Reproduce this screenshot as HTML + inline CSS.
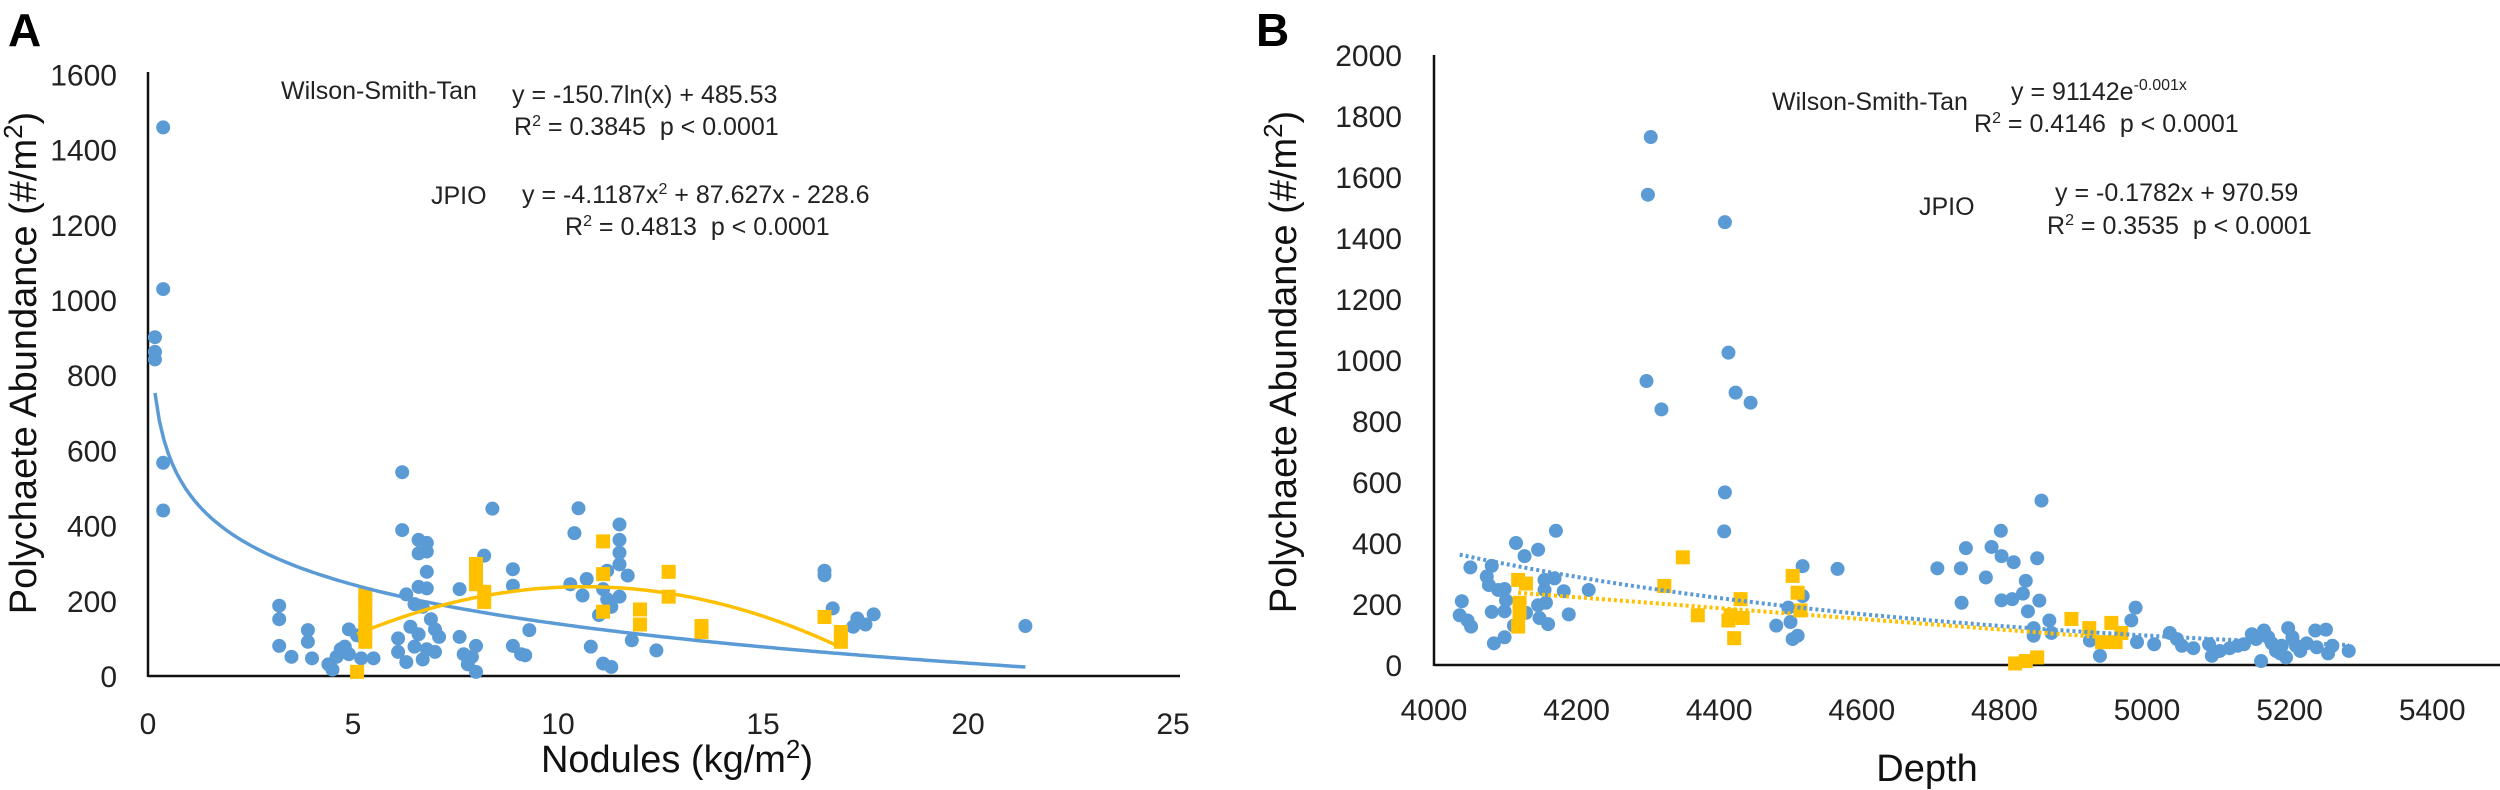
<!DOCTYPE html>
<html><head><meta charset="utf-8"><style>
html,body{margin:0;padding:0;background:#fff;}
svg{display:block;font-family:"Liberation Sans",sans-serif;}
</style></head><body>
<svg id="fig" width="2500" height="790" viewBox="0 0 2500 790" xmlns="http://www.w3.org/2000/svg">
<g id="panelA"></g>
<g id="panelB"></g>
</svg>
<script>
// ---------- Panel A data ----------
const aXTicks = [0,5,10,15,20,25];
const aYTicks = [0,200,400,600,800,1000,1200,1400,1600];
const aBlueX = [0.37,0.37,0.17,0.17,0.17,0.37,0.37,6.2,8.4,10.5,11.5,6.2,10.4,6.6,6.8,6.8,6.6,8.2,11.5,11.5,11.2,8.9,6.8,11.5,11.7,16.5,16.5,16.7,17.2,17.3,17.5,17.7,21.4,7.6,6.3,6.6,6.8,6.5,6.7,6.9,6.4,6.6,7.0,7.1,6.1,6.1,6.3,6.5,6.7,6.8,7.0,7.6,7.7,7.8,7.9,8.0,8.0,8.9,9.1,9.2,9.3,8.9,10.3,10.6,10.7,11.1,11.0,11.3,11.5,11.2,10.8,11.1,11.3,11.8,12.4,3.2,3.2,3.2,3.5,3.9,3.9,4.0,4.4,4.5,4.6,4.7,4.8,4.9,4.9,5.1,5.5,5.2];
const aBlueY = [1459,1029,901,862,842,567,440,542,445,446,403,388,380,362,354,331,326,320,362,328,280,284,277,297,267,268,280,180,131,153,137,164,133,231,217,237,233,191,184,151,131,111,124,104,100,64,37,78,44,71,64,104,58,31,51,80,11,80,58,55,122,240,244,214,258,231,162,184,211,204,78,33,24,95,68,187,151,80,51,122,91,47,31,17,51,71,78,58,124,108,47,47];
const aYelX = [5.1,5.3,5.3,5.3,5.3,5.3,5.3,8.0,8.0,8.2,8.2,8.0,11.1,11.1,11.1,12.0,12.0,12.7,12.7,13.5,13.5,16.5,16.9,16.9];
const aYelY = [11,91,117,144,171,197,217,298,244,224,197,264,358,271,171,177,137,277,211,133,117,157,91,117];
const aLogFit = [-150.7, 485.53];        // y = a ln(x) + b
const aLogRange = [0.17, 21.4];
const aQuadFit = [-4.1187, 87.627, -228.6]; // y = a x^2 + b x + c
const aQuadRange = [5.1, 16.9];

// ---------- Panel B data ----------
const bXTicks = [4000,4200,4400,4600,4800,5000,5200,5400];
const bYTicks = [0,200,400,600,800,1000,1200,1400,1600,1800,2000];
const bBlueX = [4304,4300,4408,4413,4298,4319,4423,4444,4408,4407,4852,4795,4782,4746,4796,4813,4846,4739,4706,4774,4830,4796,4811,4826,4849,4740,4833,4863,4841,4841,4866,4171,4115,4146,4127,4051,4081,4074,4077,4099,4090,4169,4155,4155,4182,4217,4039,4036,4047,4052,4081,4099,4101,4129,4146,4157,4148,4160,4189,4084,4099,4112,4480,4500,4517,4517,4503,4510,4566,4497,4984,4978,4986,5010,4920,4934,5032,5042,5049,5065,5087,5091,5102,5116,5127,5136,5147,5153,5160,5164,5170,5175,5181,5189,5195,5198,5204,5209,5224,5238,5236,5251,5254,5260,5283,5215,5187];
const bBlueY = [1731,1542,1452,1024,931,838,893,860,566,438,539,440,387,383,357,337,350,317,317,287,276,212,216,234,211,204,176,146,121,96,105,440,400,378,357,320,325,290,262,249,246,284,279,246,242,246,209,163,146,126,174,176,212,171,196,204,154,134,166,71,91,129,129,141,226,324,85,96,315,188,188,146,75,68,80,30,105,85,63,55,68,30,46,55,63,68,101,85,13,113,91,71,46,63,25,121,91,63,71,58,113,116,38,63,46,46,38];
const bYelX = [4349,4323,4370,4118,4129,4120,4120,4118,4430,4416,4433,4421,4413,4503,4510,4514,4815,4830,4846,4894,4919,4937,4950,4956,4964];
const bYelY = [353,259,163,279,267,204,171,126,216,163,154,88,146,292,237,179,5,13,25,151,121,75,138,75,105];
const bExpFit = [91142, 0.00137];   // y = A e^(-k x)
const bExpRange = [4036, 5283];
const bLinFit = [-0.1782, 970.59];  // y = m x + c
const bLinRange = [4118, 4964];

const NS = "http://www.w3.org/2000/svg";
const BLUE = "#5b9bd5", YEL = "#ffc000";
function mk(parent, tag, attrs, text) {
  const e = document.createElementNS(NS, tag);
  for (const k in attrs) e.setAttribute(k, attrs[k]);
  if (text !== undefined) e.textContent = text;
  parent.appendChild(e);
  return e;
}

// ---------- Panel A ----------
const A = document.getElementById('panelA');
const axA = v => 148 + v * 41.0;
const ayA = v => 676 - v * 0.376;
const tA = mk(A, 'text', {x: 8, y: 46, 'font-size': 46, 'font-weight': 'bold'}, 'A');


aYTicks.forEach(v => {
  const t = mk(A, 'text', {x: 117, y: ayA(v) + 11, 'font-size': 30, 'text-anchor': 'end', fill: '#222'}, String(v));
  
  
});
aXTicks.forEach(v => {
  const t = mk(A, 'text', {x: axA(v), y: 734, 'font-size': 30, 'text-anchor': 'middle', fill: '#222'}, String(v));
  
  
});
let l = mk(A, 'line', {x1: 148, y1: 676, x2: 1180, y2: 676, stroke: '#111', 'stroke-width': 2.5});


l = mk(A, 'line', {x1: 148, y1: 72, x2: 148, y2: 677, stroke: '#111', 'stroke-width': 2.5});


let t = mk(A, 'text', {x: 0, y: 0, 'font-size': 38, 'text-anchor': 'middle', fill: '#111', transform: 'translate(36,363) rotate(-90)'});
t.innerHTML = 'Polychaete Abundance (#/m<tspan font-size="26" dy="-14">2</tspan><tspan dy="14">)</tspan>';


t = mk(A, 'text', {x: 677, y: 772, 'font-size': 38, 'text-anchor': 'middle', fill: '#111'});
t.innerHTML = 'Nodules (kg/m<tspan font-size="26" dy="-14">2</tspan><tspan dy="14">)</tspan>';


// points
aBlueX.forEach((x, i) => {
  const c = mk(A, 'circle', {cx: axA(x), cy: ayA(aBlueY[i]), r: 7, fill: BLUE});
  
  
});
aYelX.forEach((x, i) => {
  const r = mk(A, 'rect', {x: axA(x) - 7, y: ayA(aYelY[i]) - 7, width: 14, height: 14, fill: YEL});
  
  
});
// fits
let pts = [];
for (let i = 0; i <= 200; i++) {
  const x = aLogRange[0] + (aLogRange[1] - aLogRange[0]) * i / 200;
  pts.push(axA(x).toFixed(1) + ',' + ayA(aLogFit[0] * Math.log(x) + aLogFit[1]).toFixed(1));
}
let p = mk(A, 'polyline', {points: pts.join(' '), fill: 'none', stroke: BLUE, 'stroke-width': 3.5});


pts = [];
for (let i = 0; i <= 100; i++) {
  const x = aQuadRange[0] + (aQuadRange[1] - aQuadRange[0]) * i / 100;
  pts.push(axA(x).toFixed(1) + ',' + ayA(aQuadFit[0] * x * x + aQuadFit[1] * x + aQuadFit[2]).toFixed(1));
}
p = mk(A, 'polyline', {points: pts.join(' '), fill: 'none', stroke: YEL, 'stroke-width': 3.5});


// annotations
const annA = [
  [281, 99, 'Wilson-Smith-Tan', 'wst-label'],
  [512, 103, 'y = -150.7ln(x) + 485.53', 'wst-equation'],
  [514, 135, 'R<tspan font-size="16" dy="-9">2</tspan><tspan dy="9"> = 0.3845  p &lt; 0.0001</tspan>', 'wst-r2'],
  [431, 204, 'JPIO', 'jpio-label'],
  [522, 203, 'y = -4.1187x<tspan font-size="16" dy="-9">2</tspan><tspan dy="9"> + 87.627x - 228.6</tspan>', 'jpio-equation'],
  [565, 235, 'R<tspan font-size="16" dy="-9">2</tspan><tspan dy="9"> = 0.4813  p &lt; 0.0001</tspan>', 'jpio-r2']
];
annA.forEach(a => {
  const e = mk(A, 'text', {x: a[0], y: a[1], 'font-size': 25, fill: '#222', 'xml:space': 'preserve', style: 'white-space:pre'});
  e.innerHTML = a[2];
  
  
});

// ---------- Panel B ----------
const B = document.getElementById('panelB');
const axB = v => 1434 + (v - 4000) * 0.713;
const ayB = v => 665 - v * 0.305;
t = mk(B, 'text', {x: 1256, y: 46, 'font-size': 46, 'font-weight': 'bold'}, 'B');


bYTicks.forEach(v => {
  const e = mk(B, 'text', {x: 1402, y: ayB(v) + 11, 'font-size': 30, 'text-anchor': 'end', fill: '#222'}, String(v));
  
  
});
bXTicks.forEach(v => {
  const e = mk(B, 'text', {x: axB(v), y: 720, 'font-size': 30, 'text-anchor': 'middle', fill: '#222'}, String(v));
  
  
});
l = mk(B, 'line', {x1: 1434, y1: 665, x2: 2500, y2: 665, stroke: '#111', 'stroke-width': 2.5});


l = mk(B, 'line', {x1: 1434, y1: 55, x2: 1434, y2: 666, stroke: '#111', 'stroke-width': 2.5});


t = mk(B, 'text', {x: 0, y: 0, 'font-size': 38, 'text-anchor': 'middle', fill: '#111', transform: 'translate(1296,362) rotate(-90)'});
t.innerHTML = 'Polychaete Abundance (#/m<tspan font-size="26" dy="-14">2</tspan><tspan dy="14">)</tspan>';


t = mk(B, 'text', {x: 1927, y: 781, 'font-size': 38, 'text-anchor': 'middle', fill: '#111'}, 'Depth');


bBlueX.forEach((x, i) => {
  const c = mk(B, 'circle', {cx: axB(x), cy: ayB(bBlueY[i]), r: 7, fill: BLUE});
  
  
});
bYelX.forEach((x, i) => {
  const r = mk(B, 'rect', {x: axB(x) - 7, y: ayB(bYelY[i]) - 7, width: 14, height: 14, fill: YEL});
  
  
});
pts = [];
for (let i = 0; i <= 100; i++) {
  const x = bExpRange[0] + (bExpRange[1] - bExpRange[0]) * i / 100;
  pts.push(axB(x).toFixed(1) + ',' + ayB(bExpFit[0] * Math.exp(-bExpFit[1] * x)).toFixed(1));
}
p = mk(B, 'polyline', {points: pts.join(' '), fill: 'none', stroke: BLUE, 'stroke-width': 4, 'stroke-dasharray': '3 3'});


p = mk(B, 'line', {x1: axB(bLinRange[0]), y1: ayB(bLinFit[0] * bLinRange[0] + bLinFit[1]), x2: axB(bLinRange[1]), y2: ayB(bLinFit[0] * bLinRange[1] + bLinFit[1]), stroke: YEL, 'stroke-width': 4, 'stroke-dasharray': '3 3'});


const annB = [
  [1772, 110, 'Wilson-Smith-Tan', 'wst-label'],
  [2011, 100, 'y = 91142e<tspan font-size="16" dy="-10">-0.001x</tspan>', 'wst-equation'],
  [1974, 132, 'R<tspan font-size="16" dy="-9">2</tspan><tspan dy="9"> = 0.4146  p &lt; 0.0001</tspan>', 'wst-r2'],
  [1919, 215, 'JPIO', 'jpio-label'],
  [2055, 201, 'y = -0.1782x + 970.59', 'jpio-equation'],
  [2047, 234, 'R<tspan font-size="16" dy="-9">2</tspan><tspan dy="9"> = 0.3535  p &lt; 0.0001</tspan>', 'jpio-r2']
];
annB.forEach(a => {
  const e = mk(B, 'text', {x: a[0], y: a[1], 'font-size': 25, fill: '#222', style: 'white-space:pre'});
  e.innerHTML = a[2];
  
  
});
</script>
</body></html>
